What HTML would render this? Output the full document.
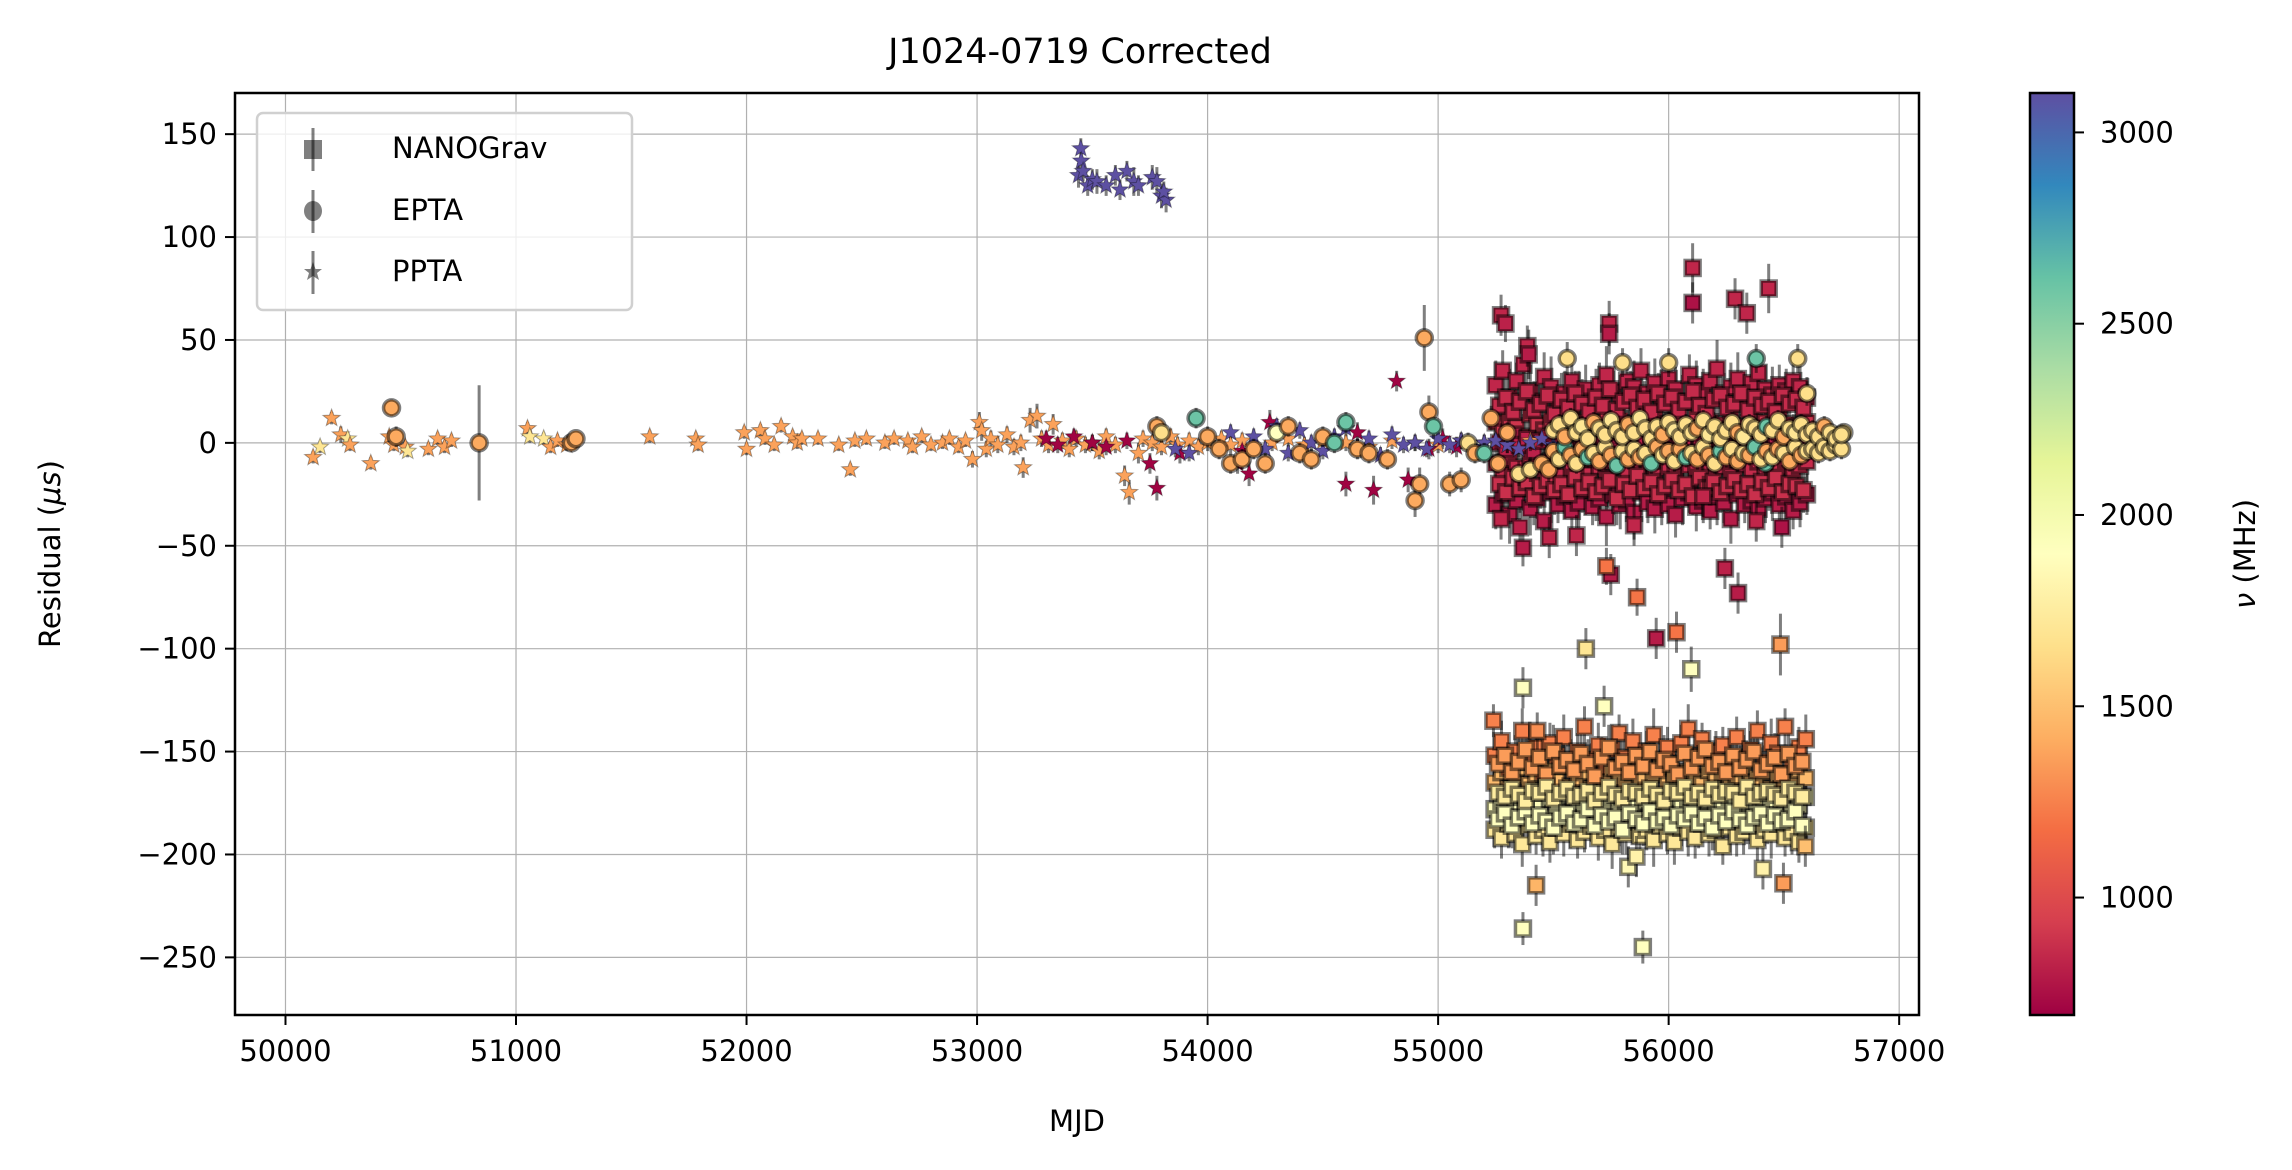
<!DOCTYPE html>
<html><head><meta charset="utf-8">
<style>
html,body{margin:0;padding:0;background:#fff;}
svg{display:block;font-family:"DejaVu Sans","Liberation Sans",sans-serif;}
</style></head>
<body>
<svg id="chart" width="2292" height="1170" viewBox="0 0 2292 1170" xmlns="http://www.w3.org/2000/svg">
<defs>
<linearGradient id="spectral" x1="0" y1="1" x2="0" y2="0">
<stop offset="0" stop-color="#9e0142"/><stop offset="0.1" stop-color="#d53e4f"/><stop offset="0.2" stop-color="#f46d43"/><stop offset="0.3" stop-color="#fdae61"/><stop offset="0.4" stop-color="#fee08b"/><stop offset="0.5" stop-color="#ffffbf"/><stop offset="0.6" stop-color="#e6f598"/><stop offset="0.7" stop-color="#abdda4"/><stop offset="0.8" stop-color="#66c2a5"/><stop offset="0.9" stop-color="#3288bd"/><stop offset="1" stop-color="#5e4fa2"/>
</linearGradient>
<clipPath id="plotclip"><rect x="235" y="93" width="1684" height="922"/></clipPath>
</defs>
<text x="1080" y="63" font-size="35" text-anchor="middle">J1024-0719 Corrected</text>
<g id="grid"></g>
<g id="marks" clip-path="url(#plotclip)"></g>
<rect x="235" y="93" width="1684" height="922" fill="none" stroke="#000" stroke-width="2.5"/>
<g id="axes"></g>
<text x="1077" y="1131" font-size="29" text-anchor="middle">MJD</text>
<text transform="translate(60,554) rotate(-90)" font-size="29" text-anchor="middle">Residual (<tspan font-style="italic">μs</tspan>)</text>
<g>
<rect x="257" y="113" width="375" height="197" rx="6" fill="#fff" fill-opacity="0.8" stroke="#d0d0d0" stroke-width="2.5"/>
<g>
<line x1="313" y1="128" x2="313" y2="171" stroke="rgba(0,0,0,0.5)" stroke-width="3"/>
<rect x="304" y="140" width="18" height="19" fill="rgba(0,0,0,0.5)"/>
<text x="392" y="158" font-size="29">NANOGrav</text></g>
<g>
<line x1="313" y1="190" x2="313" y2="233" stroke="rgba(0,0,0,0.5)" stroke-width="3"/>
<ellipse cx="313" cy="211" rx="9" ry="10" fill="rgba(0,0,0,0.5)"/>
<text x="392" y="220" font-size="29">EPTA</text></g>
<g>
<line x1="313" y1="251" x2="313" y2="294" stroke="rgba(0,0,0,0.5)" stroke-width="3"/>
<polygon points="313,262 315.5,269 322,269 317,273 319,280 313,276 307,280 309,273 304,269 310.5,269" fill="rgba(0,0,0,0.5)"/>
<text x="392" y="281" font-size="29">PPTA</text></g>
</g>
<g>
<rect x="2030" y="93" width="44" height="922" fill="url(#spectral)" stroke="#000" stroke-width="2.5"/>
<g id="cbticks"></g>
<text transform="translate(2255,554) rotate(-90)" font-size="29" text-anchor="middle"><tspan font-style="italic">ν</tspan> (MHz)</text>
</g>
</svg>
<script>
// ---------- axis config ----------
const xTicks = [50000,51000,52000,53000,54000,55000,56000,57000];
const yTicks = [150,100,50,0,-50,-100,-150,-200,-250];
const cbTicks = [1000,1500,2000,2500,3000];

// ---------- NANOGrav data (dense bands) ----------
const ngMjd = [55250,55280,55310,55340,55370,55400,55430,55460,55490,55520,55550,55580,55610,55640,55670,55700,55730,55760,55790,55820,55850,55880,55910,55940,55970,56000,56030,56060,56090,56120,56150,56180,56210,56240,56270,56300,56330,56360,56390,56420,56450,56480,56510,56540,56570,56600];
const ngResA = [28,35,22,30,38,25,20,32,27,18,24,30,22,26,20,28,33,25,21,30,27,35,24,29,22,31,26,20,33,28,25,30,36,24,27,31,22,29,34,26,23,28,25,30,27,22];
const ngResB = [10,5,12,8,3,14,9,6,11,4,8,13,7,10,5,9,12,6,11,7,3,10,8,13,6,9,11,4,8,12,7,10,5,9,13,6,8,11,4,10,7,12,9,5,8,10];
const ngResC = [-10,-15,-8,-12,-18,-6,-11,-14,-9,-16,-7,-13,-10,-15,-8,-12,-17,-9,-11,-14,-6,-13,-10,-16,-8,-12,-15,-9,-11,-13,-7,-14,-10,-12,-16,-8,-11,-13,-9,-15,-10,-12,-8,-14,-11,-9];
const ngResD = [-30,-25,-35,-28,-22,-32,-27,-38,-24,-30,-26,-33,-29,-23,-31,-27,-36,-25,-30,-28,-34,-24,-29,-32,-26,-30,-35,-27,-24,-31,-28,-33,-26,-29,-37,-25,-30,-28,-32,-27,-24,-30,-26,-33,-29,-25];
const ngErr = [12,10,14,9,11,13,10,12,15,9,11,10,13,12,9,11,14,10,12,9,13,11,10,12,14,9,11,13,10,12,11,9,14,10,12,13,9,11,10,12,14,10,11,9,12,10];
const ngFreqRows = [840,900,860,800];

const ngMjd2 = [55265,55295,55325,55355,55385,55415,55445,55475,55505,55535,55565,55595,55625,55655,55685,55715,55745,55775,55805,55835,55865,55895,55925,55955,55985,56015,56045,56075,56105,56135,56165,56195,56225,56255,56285,56315,56345,56375,56405,56435,56465,56495,56525,56555,56585];
const ngResE = [18,22,15,20,25,16,19,23,14,21,17,24,19,15,22,18,26,16,20,23,17,21,15,24,19,22,16,20,25,18,14,21,23,17,19,24,16,22,18,20,15,23,19,21,17];
const ngResF = [0,-3,4,-1,2,-4,1,3,-2,0,5,-3,2,-1,-4,3,0,-2,4,1,-3,2,-1,0,3,-4,1,-2,2,0,-3,4,-1,1,-2,3,0,-4,2,-1,1,-3,0,2,-2];
const ngResG = [-20,-24,-17,-22,-19,-26,-21,-18,-23,-20,-25,-17,-22,-19,-24,-21,-18,-27,-20,-23,-16,-22,-19,-25,-21,-18,-23,-20,-26,-17,-22,-19,-24,-21,-18,-23,-20,-25,-19,-22,-17,-24,-20,-21,-23];
const ngErr2 = [11,13,10,12,9,14,11,10,12,13,9,11,12,10,14,9,11,13,10,12,11,9,13,10,12,11,14,10,9,12,13,11,10,12,9,11,14,10,12,11,13,9,10,12,11];
const ngFreqRows2 = [860,820,880];

const lbMjd = [55245,55275,55305,55335,55365,55395,55425,55455,55485,55515,55545,55575,55605,55635,55665,55695,55725,55755,55785,55815,55845,55875,55905,55935,55965,55995,56025,56055,56085,56115,56145,56175,56205,56235,56265,56295,56325,56355,56385,56415,56445,56475,56505,56535,56565,56595];
const lbResA = [-152,-145,-158,-150,-140,-155,-148,-160,-146,-152,-143,-156,-150,-138,-154,-147,-158,-149,-141,-153,-145,-157,-150,-142,-155,-148,-160,-146,-139,-152,-144,-156,-150,-147,-158,-143,-153,-149,-140,-155,-146,-151,-138,-157,-148,-144];
const lbResB = [-165,-160,-168,-162,-158,-166,-161,-170,-159,-164,-157,-167,-163,-160,-168,-162,-165,-158,-163,-167,-160,-164,-169,-161,-158,-165,-162,-168,-160,-163,-166,-159,-164,-161,-167,-162,-158,-165,-163,-160,-168,-161,-164,-166,-159,-163];
const lbResC = [-178,-174,-180,-175,-172,-179,-176,-182,-173,-177,-171,-180,-175,-178,-174,-181,-176,-172,-179,-175,-177,-183,-174,-178,-176,-180,-173,-177,-179,-175,-181,-174,-176,-178,-172,-180,-177,-175,-179,-173,-176,-181,-174,-178,-176,-172];
const lbResD = [-188,-192,-185,-190,-195,-186,-191,-188,-194,-187,-190,-185,-193,-189,-186,-192,-188,-195,-187,-190,-184,-191,-188,-193,-186,-190,-194,-187,-189,-192,-185,-190,-188,-196,-187,-191,-189,-186,-193,-188,-190,-185,-192,-189,-194,-187];
const lbErr = [9,10,12,8,11,10,9,13,10,8,11,12,9,10,8,11,10,12,9,10,11,8,10,13,9,10,11,9,12,10,8,11,10,9,12,10,11,9,10,8,12,10,9,11,10,12];
const lbFreqRows = [1250,1480,1880,1720];

const lbMjd2 = [55260,55290,55320,55350,55380,55410,55440,55470,55500,55530,55560,55590,55620,55650,55680,55710,55740,55770,55800,55830,55860,55890,55920,55950,55980,56010,56040,56070,56100,56130,56160,56190,56220,56250,56280,56310,56340,56370,56400,56430,56460,56490,56520,56550,56580];
const lbResE = [-156,-152,-160,-155,-149,-158,-153,-161,-150,-157,-154,-159,-151,-156,-162,-153,-148,-158,-155,-160,-152,-157,-150,-159,-154,-156,-161,-151,-158,-153,-149,-157,-155,-160,-152,-158,-154,-150,-159,-156,-153,-161,-151,-157,-155];
const lbResF = [-170,-172,-168,-171,-174,-169,-170,-167,-173,-170,-168,-172,-171,-169,-174,-170,-167,-171,-173,-169,-170,-172,-168,-171,-174,-169,-170,-167,-172,-170,-173,-168,-171,-169,-170,-174,-167,-172,-170,-169,-171,-173,-168,-170,-172];
const lbResG = [-183,-180,-186,-182,-179,-185,-181,-184,-187,-182,-180,-185,-183,-178,-186,-181,-184,-182,-188,-180,-183,-185,-179,-184,-182,-186,-181,-183,-180,-185,-182,-187,-181,-184,-179,-183,-186,-182,-180,-185,-181,-184,-183,-179,-186];
const lbErr2 = [10,9,11,12,8,10,11,9,13,10,9,11,10,12,8,10,11,9,12,10,9,11,10,8,12,10,11,9,10,12,9,11,10,8,12,11,9,10,11,10,12,9,10,11,9];
const lbFreqRows2 = [1350,1750,1900];

// NANOGrav outliers
const ngOutMjd = [55273,55292,55387,55393,55742,55742,56104,56104,56288,56339,56434,55273,55355,55368,55482,55749,55730,55863,55946,56034,56244,56301,56491,55850,56150,55641,56098,56485,55368,55425,55368,55825,55888,55860,56409,56498,56593,55240,55430,55720,55600,56380];
const ngOutRes = [62,58,47,43,58,53,85,68,70,63,75,-37,-41,-51,-46,-64,-60,-75,-95,-92,-61,-73,-41,-40,-26,-100,-110,-98,-119,-215,-236,-206,-245,-201,-207,-214,-196,-135,-140,-128,-45,-38];
const ngOutErr = [10,9,10,12,11,10,12,10,10,10,12,10,10,9,10,10,9,9,10,10,10,10,10,10,10,10,11,15,10,10,8,10,8,10,10,10,10,8,9,10,10,10];
const ngOutFreq = [840,820,840,800,840,800,840,760,840,840,840,840,820,800,840,800,1200,1200,800,1200,820,800,760,840,840,1700,1900,1350,1900,1450,1900,1850,1900,1800,1800,1350,1500,1250,1300,1900,840,840];

// ---------- EPTA data ----------
const epMjd = [50460,50480,50840,51240,51260,53780,53800,53950,54000,54050,54100,54150,54200,54250,54300,54350,54400,54450,54500,54550,54600,54650,54700,54780,54900,54920,54940,54960,54980,55050,55100,55130,55160,55200,55230,55260,55300,55350,55400,55450,55480,55560,55580,55800,56000,56380,56420,56560,56600,56700,56760];
const epRes = [17,3,0,0,2,8,5,12,3,-3,-10,-8,-3,-10,5,8,-5,-8,3,0,10,-3,-5,-8,-28,-20,51,15,8,-20,-18,0,-5,-5,12,-10,5,-15,-13,-10,-13,41,10,39,39,41,-10,41,24,2,5];
const epErr = [4,5,28,3,3,5,5,5,5,5,5,5,5,5,5,5,5,5,5,5,5,5,5,5,8,8,16,8,6,6,6,5,5,5,6,5,5,6,6,5,6,8,6,7,7,7,6,7,6,4,4];
const epFreq = [1400,1400,1400,1400,1400,1400,1650,2600,1400,1400,1400,1400,1400,1400,1900,1400,1400,1400,1400,2600,2600,1400,1400,1400,1400,1400,1400,1400,2600,1400,1400,1650,1400,2600,1400,1400,1400,1650,1650,1400,1400,1650,1650,1650,1650,2600,2600,1650,1650,1650,1650];
const ebMjd = [55500,55525,55550,55575,55600,55625,55650,55675,55700,55725,55750,55775,55800,55825,55850,55875,55900,55925,55950,55975,56000,56025,56050,56075,56100,56125,56150,56175,56200,56225,56250,56275,56300,56325,56350,56375,56400,56425,56450,56475,56500,56525,56550,56575,56600,56625,56650,56675,56700,56725,56750];
const ebResA = [6,9,3,12,5,8,2,10,7,4,11,6,3,9,5,12,7,2,8,4,10,6,3,9,5,7,11,4,8,2,6,10,5,3,9,7,4,8,6,11,3,7,5,9,4,6,3,8,5,2,4];
const ebResB = [-4,-8,-2,-6,-10,-3,-7,-5,-9,-2,-6,-11,-4,-8,-3,-7,-5,-10,-2,-6,-4,-9,-3,-7,-5,-8,-2,-6,-10,-4,-7,-3,-9,-5,-6,-2,-8,-4,-7,-3,-5,-9,-2,-6,-4,-3,-5,-2,-4,-1,-3];
const ebFreqA = [1650,1650,1400,1650,1650,1700,1650,1400,1650,1650,1700,1650,1650,1400,1650,1700,1650,1650,1650,1400,1650,1700,1650,1650,1650,1400,1650,1700,1650,1650,1650,1650,1400,1700,1650,1650,1650,2600,1650,1650,1400,1650,1700,1650,1650,1650,1650,1400,1650,1650,1650];
const ebFreqB = [1400,1650,2600,1400,1650,1400,2600,1650,1400,1650,1400,2600,1650,1400,1650,1400,1650,2600,1400,1650,1400,1650,1400,2600,1650,1400,1650,1400,1650,2600,1400,1650,1400,1650,1400,2600,1650,1400,1650,1400,1650,1400,1650,1400,1650,1650,1650,1650,1650,1650,1650];

// ---------- PPTA data ----------
const ppMjd = [50120,50150,50200,50240,50270,50280,50370,50450,50470,50520,50530,50620,50660,50690,50720,51050,51060,51120,51150,51180,51220,51580,51780,51790,51990,52000,52060,52080,52120,52150,52200,52220,52240,52310,52400,52450,52470,52520,52600,52640,52700,52720,52760,52800,52850,52880,52920,52950,52980,53010,53020,53040,53060,53090,53130,53160,53190,53200,53230,53260,53280,53310,53330,53370,53400,53430,53470,53500,53530,53560,53600,53640,53660,53700,53720,53760,53800,53840,53870,53920,53960,54000,54060,54100,54150,54200,54280,54350,54420,54500,54600,54700,54800,54900,55000,55100,55200,55300,55400];
const ppRes = [-7,-2,12,4,2,-1,-10,3,-1,-2,-4,-3,2,-2,1,7,3,2,-2,1,-1,3,2,-1,5,-3,6,2,-1,8,3,0,2,2,-1,-13,1,2,0,2,1,-2,3,-1,0,2,-2,1,-8,10,6,-3,2,-1,4,-2,0,-12,11,13,2,-1,9,1,-3,2,-1,0,-4,3,-1,-16,-24,-5,2,0,-2,3,-1,1,-2,0,2,-1,1,-2,0,2,-1,1,0,-2,1,0,-1,1,0,-1,1];
const ppErr = [3,3,3,4,3,3,3,3,3,3,3,3,3,3,3,3,3,3,3,3,3,3,3,3,3,3,3,3,3,3,3,3,3,3,3,3,3,3,3,3,3,3,3,3,3,3,3,3,4,5,5,4,4,4,4,4,4,5,6,6,4,4,5,4,4,4,4,4,4,4,4,5,6,5,4,4,4,4,4,4,4,4,4,4,4,4,4,4,4,4,4,4,4,4,4,4,4,4,4];
const ppFreq = [1370,1700,1370,1370,1700,1370,1370,1370,1370,1370,1700,1370,1370,1370,1370,1370,1700,1700,1370,1370,1370,1370,1370,1370,1370,1370,1370,1370,1370,1370,1370,1370,1370,1370,1370,1370,1370,1370,1370,1370,1370,1370,1370,1370,1370,1370,1370,1370,1370,1370,1370,1370,1370,1370,1370,1370,1370,1370,1370,1370,1370,1370,1370,1370,1370,1370,1370,1370,1370,1370,1370,1370,1370,1370,1370,1370,1370,1370,1370,1370,1370,1370,1370,1370,1370,1370,1370,1370,1370,1370,1370,1370,1370,1370,1370,1370,1370,1370,1370];
const pbMjd = [53450,53452,53440,53460,53480,53500,53520,53560,53600,53620,53650,53680,53700,53760,53780,53800,53820,53810,53860,53920,54100,54150,54200,54250,54300,54350,54400,54450,54500,54550,54600,54650,54700,54750,54800,54850,54900,54950,55000,55050,55100,55150,55200,55250,55300,55350,55400,55450,55500];
const pbRes = [143,137,130,132,125,128,127,125,130,123,132,127,125,129,127,120,118,122,-3,-5,5,-8,3,-3,8,-5,6,0,-4,3,7,-2,2,-6,4,-1,0,-3,2,-1,1,-2,0,1,-1,-3,0,2,-1];
const pbErr = [5,5,6,5,5,5,6,5,5,5,5,7,5,6,7,6,6,5,4,4,4,4,4,4,4,4,4,4,4,4,4,4,4,4,4,4,4,4,4,4,4,4,4,4,4,4,4,4,4];
const prMjd = [53750,53780,53880,54130,54150,54180,54270,54600,54650,54720,54820,54870,53300,53350,53420,53500,53560,53650,54960,55020,55080];
const prRes = [-10,-22,-5,-10,-4,-15,10,-20,5,-23,30,-18,2,-1,3,0,-2,1,-3,2,-2];
const prErr = [5,6,5,5,5,6,6,6,5,7,5,6,4,4,4,4,4,4,5,5,5];
const pbFreq = 3100;
const prFreq = 700;

// ---------- scales ----------
const X0 = 235, X1 = 1919, Y0 = 93, Y1 = 1015;
const xMin = 49781, xMax = 57086, yMin = -278, yMax = 170;
const vMin = 693, vMax = 3103;
function sx(m){ return X0 + (m - xMin) / (xMax - xMin) * (X1 - X0); }
function sy(v){ return Y1 - (v - yMin) / (yMax - yMin) * (Y1 - Y0); }
function sc(f){ return Y1 - (f - vMin) / (vMax - vMin) * (Y1 - Y0); }
const stops = [[158,1,66],[213,62,79],[244,109,67],[253,174,97],[254,224,139],[255,255,191],[230,245,152],[171,221,164],[102,194,165],[50,136,189],[94,79,162]];
function cmap(f){
  let t = Math.max(0, Math.min(1, (f - vMin) / (vMax - vMin))) * 10;
  let i = Math.min(9, Math.floor(t)), u = t - i;
  const a = stops[i], b = stops[i+1];
  return 'rgb(' + [0,1,2].map(k => Math.round(a[k] + (b[k]-a[k])*u)).join(',') + ')';
}
const NS = 'http://www.w3.org/2000/svg';
function mk(tag, attrs, parent){
  const e = document.createElementNS(NS, tag);
  for (const k in attrs) e.setAttribute(k, attrs[k]);
  parent.appendChild(e); return e;
}
const grid = document.getElementById('grid');
const axes = document.getElementById('axes');
const marks = document.getElementById('marks');
const cbt = document.getElementById('cbticks');

xTicks.forEach(t => {
  const x = sx(t);
  const g = mk('line', {x1:x, y1:Y0, x2:x, y2:Y1, stroke:'#b0b0b0', 'stroke-width':1.2}, grid);
  
  
  mk('line', {x1:x, y1:Y1, x2:x, y2:Y1+10, stroke:'#000', 'stroke-width':2}, axes);
  const tx = mk('text', {x:x, y:Y1+46, 'font-size':29, 'text-anchor':'middle'}, axes);
  tx.textContent = t;
  
  
});
yTicks.forEach(t => {
  const y = sy(t);
  const g = mk('line', {x1:X0, y1:y, x2:X1, y2:y, stroke:'#b0b0b0', 'stroke-width':1.2}, grid);
  
  
  mk('line', {x1:X0-10, y1:y, x2:X0, y2:y, stroke:'#000', 'stroke-width':2}, axes);
  const tx = mk('text', {x:X0-18, y:y+10, 'font-size':29, 'text-anchor':'end'}, axes);
  tx.textContent = t < 0 ? '\u2212' + Math.abs(t) : String(t);
  
  
});
cbTicks.forEach(t => {
  const y = sc(t);
  mk('line', {x1:2074, y1:y, x2:2084, y2:y, stroke:'#000', 'stroke-width':2}, cbt);
  const tx = mk('text', {x:2100, y:y+10, 'font-size':29}, cbt);
  tx.textContent = t;
  
  
});

const EB = 'rgba(0,0,0,0.5)';
function errbar(m, v, e){
  mk('line', {x1:sx(m), y1:sy(v+e), x2:sx(m), y2:sy(v-e), stroke:EB, 'stroke-width':3}, marks);
}
function square(m, v, f){
  const s = mk('rect', {x:sx(m)-7.5, y:sy(v)-7.5, width:15, height:15, fill:cmap(f), stroke:EB, 'stroke-width':3.5}, marks);
  
  
}
function circle(m, v, f){
  const c = mk('circle', {cx:sx(m), cy:sy(v), r:8, fill:cmap(f), stroke:EB, 'stroke-width':3.5}, marks);
  
  
}
function star(m, v, f){
  const cx = sx(m), cy = sy(v), R = 9, r = 3.8;
  let p = [];
  for (let i = 0; i < 10; i++){
    const a = -Math.PI/2 + i*Math.PI/5, rr = i%2 ? r : R;
    p.push((cx + rr*Math.cos(a)).toFixed(1) + ',' + (cy + rr*Math.sin(a)).toFixed(1));
  }
  const s = mk('polygon', {points:p.join(' '), fill:cmap(f), stroke:'rgba(0,0,0,0.35)', 'stroke-width':1}, marks);
  
  
}

// NANOGrav lower band
const lbRows = [lbResA, lbResB, lbResD, lbResC];
const lbFr = [lbFreqRows[0], lbFreqRows[1], lbFreqRows[3], lbFreqRows[2]];
const lbRows2 = [lbResE, lbResG, lbResF];
const lbFr2 = [lbFreqRows2[0], lbFreqRows2[2], lbFreqRows2[1]];
lbMjd.forEach((m,i) => lbRows.forEach(r => errbar(m, r[i], lbErr[i])));
lbMjd2.forEach((m,i) => lbRows2.forEach(r => errbar(m, r[i], lbErr2[i])));
lbMjd.forEach((m,i) => lbRows.forEach((r,k) => square(m, r[i], lbFr[k])));
lbMjd2.forEach((m,i) => lbRows2.forEach((r,k) => square(m, r[i], lbFr2[k])));
// NANOGrav upper band
const ngRows = [ngResA, ngResB, ngResC, ngResD];
const ngRows2 = [ngResE, ngResF, ngResG];
ngMjd.forEach((m,i) => ngRows.forEach(r => errbar(m, r[i], ngErr[i])));
ngMjd2.forEach((m,i) => ngRows2.forEach(r => errbar(m, r[i], ngErr2[i])));
ngMjd.forEach((m,i) => ngRows.forEach((r,k) => square(m, r[i], ngFreqRows[k])));
ngMjd2.forEach((m,i) => ngRows2.forEach((r,k) => square(m, r[i], ngFreqRows2[k])));
ngOutMjd.forEach((m,i) => errbar(m, ngOutRes[i], ngOutErr[i]));
ngOutMjd.forEach((m,i) => square(m, ngOutRes[i], ngOutFreq[i]));

// PPTA
ppMjd.forEach((m,i) => errbar(m, ppRes[i], ppErr[i]));
pbMjd.forEach((m,i) => errbar(m, pbRes[i], pbErr[i]));
prMjd.forEach((m,i) => errbar(m, prRes[i], prErr[i]));
ppMjd.forEach((m,i) => star(m, ppRes[i], ppFreq[i]));
prMjd.forEach((m,i) => star(m, prRes[i], prFreq));
pbMjd.forEach((m,i) => star(m, pbRes[i], pbFreq));

// EPTA
epMjd.forEach((m,i) => errbar(m, epRes[i], epErr[i]));
ebMjd.forEach((m,i) => { errbar(m, ebResA[i], 5); errbar(m, ebResB[i], 5); });
epMjd.forEach((m,i) => circle(m, epRes[i], epFreq[i]));
ebMjd.forEach((m,i) => { circle(m, ebResB[i], ebFreqB[i]); circle(m, ebResA[i], ebFreqA[i]); });
</script>
</body></html>
